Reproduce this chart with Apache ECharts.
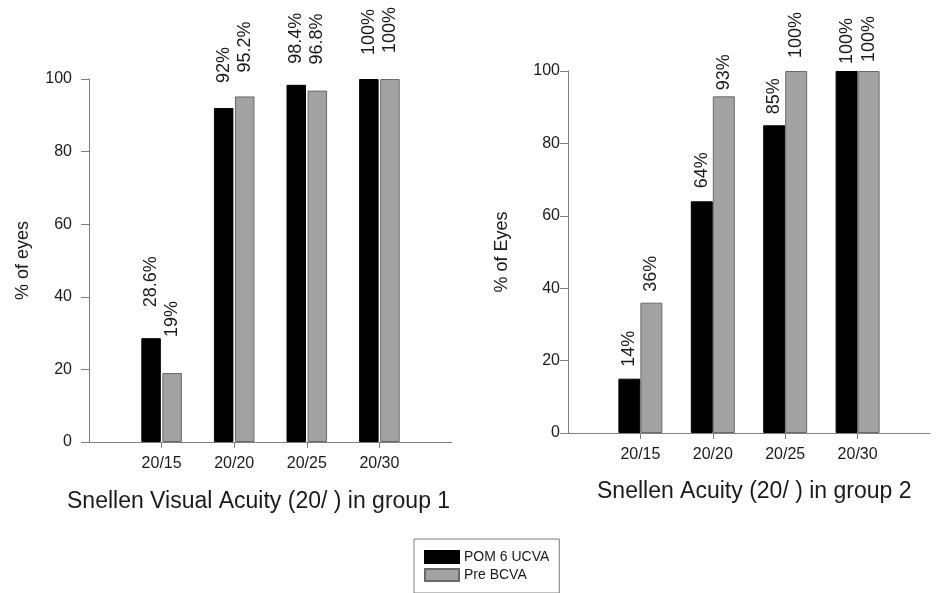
<!DOCTYPE html>
<html>
<head>
<meta charset="utf-8">
<script src="https://cdn.jsdelivr.net/npm/echarts@6/dist/echarts.min.js"></script>
<style>
  html, body { margin: 0; padding: 0; background: #fff; }
  #chart { width: 936px; height: 593px; }
</style>
</head>
<body>
<div id="chart"></div>
<script>
// acuity categories (shared by both panels)
const categories = ['20/15', '20/20', '20/25', '20/30']

// group 1
const g1Pom = [28.6, 92, 98.4, 100]
const g1Pre = [19, 95.2, 96.8, 100]
const g1PomLabels = ['28.6%', '92%', '98.4%', '100%']
const g1PreLabels = ['19%', '95.2%', '96.8%', '100%']

// group 2 (first black bar is drawn a bit above its 14% label)
const g2Pom = [15, 64, 85, 100]
const g2Pre = [36, 93, 100, 100]
const g2PomLabels = ['14%', '64%', '85%', '100%']
const g2PreLabels = ['36%', '93%', '100%', '100%']

const yTicks = [0, 20, 40, 60, 80, 100]

// gap (px) between bar top and its rotated label, placed by hand in the original
const g1PomGap = [31, 25, 21, 24]
const g1PreGap = [36, 24, 26, 26]
const g2PomGap = [12, 13, 11, 7]
const g2PreGap = [11, 6, 13, 9]

const FONT = '"Liberation Sans", Arial, sans-serif'
const TEXT = '#1a1a1a'
const AXIS = '#7f7f7f'

// empty slot on each side so the groups sit one step in from the axis ends
const pad = arr => ['-', ...arr, '-']
const axisCats = ['', ...categories, '']

function xAxis(grid) {
  return {
    type: 'category',
    gridIndex: grid,
    data: axisCats,
    boundaryGap: false,
    axisLine: { lineStyle: { color: AXIS, width: 1 } },
    axisTick: { length: 6, interval: (i) => i > 0 && i < axisCats.length - 1, lineStyle: { color: AXIS } },
    axisLabel: { color: TEXT, fontSize: 16, fontFamily: FONT, margin: 14, interval: 0 },
    splitLine: { show: false },
  }
}

function yAxis(grid, name, labelMargin) {
  return {
    type: 'value',
    gridIndex: grid,
    min: yTicks[0],
    max: yTicks[yTicks.length - 1],
    interval: yTicks[1] - yTicks[0],
    name,
    nameLocation: 'middle',
    nameGap: 57,
    nameTextStyle: { color: TEXT, fontSize: 18, fontFamily: FONT },
    axisLine: { show: true, lineStyle: { color: AXIS, width: 1 } },
    axisTick: { show: true, length: 8, lineStyle: { color: AXIS } },
    axisLabel: { color: TEXT, fontSize: 16, fontFamily: FONT, margin: labelMargin },
    splitLine: { show: false },
  }
}

function barSeries(name, grid, values, labels, gaps, color, border, width, gap) {
  const data = pad(values).map((v, i) =>
    v === '-' ? v : { value: v, label: { distance: gaps[i - 1] } })
  return {
    name,
    type: 'bar',
    xAxisIndex: grid,
    yAxisIndex: grid,
    data,
    barWidth: width,
    barGap: gap,
    itemStyle: { color, borderColor: border, borderWidth: 1 },
    label: {
      show: true,
      position: 'top',
      rotate: 90,
      align: 'left',
      verticalAlign: 'middle',
      color: TEXT,
      fontSize: 18,
      fontFamily: FONT,
      formatter: p => labels[p.dataIndex - 1] ?? '',
    },
  }
}

const BLACK = '#000000'
const GRAY = '#a2a2a2'
const GRAY_EDGE = '#6a6a6a'

const chart = echarts.init(document.getElementById('chart'), null, { renderer: 'canvas' })
chart.setOption({
  animation: false,
  backgroundColor: '#fff',
  textStyle: { fontFamily: FONT },
  title: [
    { text: 'Snellen Visual Acuity (20/ ) in group 1', left: 62, top: 485,
      textStyle: { fontSize: 23, fontWeight: 'normal', color: TEXT, fontFamily: FONT } },
    { text: 'Snellen Acuity (20/ ) in group 2', left: 592, top: 475,
      textStyle: { fontSize: 23, fontWeight: 'normal', color: TEXT, fontFamily: FONT } },
  ],
  legend: {
    orient: 'vertical',
    left: 414,
    top: 539,
    padding: [11, 10, 11, 10],
    itemWidth: 34,
    itemHeight: 12,
    itemGap: 4,
    icon: 'rect',
    borderColor: AXIS,
    borderWidth: 1,
    backgroundColor: '#fff',
    textStyle: { color: TEXT, fontSize: 14, fontFamily: FONT, padding: [0, 0, 0, 0] },
    data: ['POM 6 UCVA', 'Pre BCVA'],
  },
  grid: [
    { left: 89, top: 79, width: 363, height: 363 },
    { left: 568, top: 71, width: 362, height: 362 },
  ],
  xAxis: [xAxis(0), xAxis(1)],
  yAxis: [yAxis(0, '% of eyes', 17), yAxis(1, '% of Eyes', 8)],
  series: [
    barSeries('POM 6 UCVA', 0, g1Pom, g1PomLabels, g1PomGap, BLACK, BLACK, 19.5, '8%'),
    barSeries('Pre BCVA', 0, g1Pre, g1PreLabels, g1PreGap, GRAY, GRAY_EDGE, 19.5, '8%'),
    barSeries('POM 6 UCVA', 1, g2Pom, g2PomLabels, g2PomGap, BLACK, BLACK, 22, '0%'),
    barSeries('Pre BCVA', 1, g2Pre, g2PreLabels, g2PreGap, GRAY, GRAY_EDGE, 22, '0%'),
  ],
})
window.addEventListener('resize', () => chart.resize())
</script>
</body>
</html>
